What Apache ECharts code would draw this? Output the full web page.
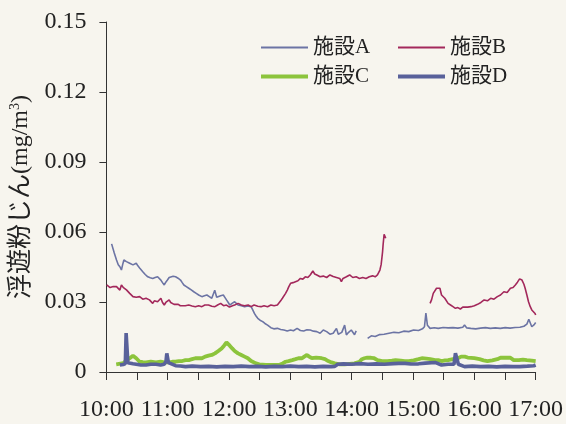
<!DOCTYPE html>
<html>
<head>
<meta charset="utf-8">
<script src="https://cdn.jsdelivr.net/npm/echarts@6/dist/echarts.min.js"></script>
<style>
  html, body { margin: 0; padding: 0; background: #f7f5ee; }
  #chart { width: 566px; height: 424px; }
</style>
</head>
<body>
<div id="chart"></div>
<script>
// Airborne dust concentration (mg/m3), time in minutes after 10:00
const seriesNames = ['施設A', '施設B', '施設C', '施設D'];
const hourLabels = ['10:00', '11:00', '12:00', '13:00', '14:00', '15:00', '16:00', '17:00'];
const yTicks = [0, 0.03, 0.06, 0.09, 0.12, 0.15];

const facilityA = [
  [5.1, 0.0549], [7.7, 0.051], [9.9, 0.048], [11.6, 0.046], [13.2, 0.0451], [14.7, 0.0437],
  [15.9, 0.046], [17.1, 0.048], [18.3, 0.0475], [19.6, 0.0473], [21.2, 0.047], [22.8, 0.0466],
  [24.4, 0.0462], [26, 0.0459], [27.6, 0.0462], [29.2, 0.0466], [30.8, 0.0455], [32.5, 0.0446],
  [34, 0.0438], [35.6, 0.043], [38, 0.0418], [40.5, 0.0408], [42.9, 0.0404], [45.3, 0.0401],
  [47.7, 0.0405], [50.1, 0.0408], [51.7, 0.0401], [53.3, 0.0394], [54.9, 0.0383], [56.6, 0.0373],
  [58.1, 0.0385], [59.7, 0.0394], [61.4, 0.0405], [62.9, 0.0413], [65.3, 0.041], [67.7, 0.0408],
  [70.1, 0.0402], [72.5, 0.0394], [74.2, 0.0383], [75.8, 0.0373], [78.2, 0.0366], [80.6, 0.0359],
  [83, 0.0352], [85.5, 0.0344], [87.9, 0.0337], [90.3, 0.033], [93.4, 0.0323], [95.9, 0.0327],
  [98.3, 0.033], [100.7, 0.0323], [103.1, 0.0316], [106, 0.035], [107.9, 0.032], [109.5, 0.0323],
  [111.8, 0.0327], [114.4, 0.033], [115.9, 0.032], [117.5, 0.0309], [119.2, 0.0298], [120.7, 0.0287],
  [123.3, 0.0295], [125.5, 0.0301], [127.2, 0.0294], [128.8, 0.0287], [132, 0.0284], [135.2, 0.028],
  [138.4, 0.0283], [141.6, 0.028], [143.3, 0.0265], [144.8, 0.0251], [146.4, 0.024], [148.1, 0.023],
  [150.3, 0.0222], [152.9, 0.0216], [155.1, 0.0208], [157.7, 0.0201], [159, 0.0195], [160.9, 0.019],
  [163.8, 0.0185], [167.3, 0.0187], [170.5, 0.0182], [173.7, 0.018], [176.9, 0.0176], [180.2, 0.018],
  [183, 0.0177], [186.6, 0.0187], [189.8, 0.0178], [193, 0.0176], [196.2, 0.0181], [199.4, 0.018],
  [202.6, 0.0175], [205.9, 0.0173], [209.1, 0.0166], [212.2, 0.018], [215.5, 0.0173], [218.7, 0.0162],
  [221.9, 0.0166], [225.1, 0.0187], [226.9, 0.0162], [228.3, 0.0159], [230.3, 0.017], [233.1, 0.0201],
  [234.8, 0.0159], [237, 0.017], [239.6, 0.018], [242.8, 0.016], [244.4, 0.0176],
  [250, null],
  [255.6, 0.0144], [259.2, 0.0155], [263, 0.0152], [266.9, 0.016], [271.7, 0.0162], [276.5, 0.0166],
  [281.3, 0.017], [286.1, 0.0168], [290.9, 0.0175], [295.8, 0.0173], [300.6, 0.018], [305.4, 0.0178],
  [309.2, 0.0185], [311.2, 0.0194], [312.6, 0.0252], [314.1, 0.02], [316.7, 0.0187], [320.8, 0.019],
  [324.7, 0.0187], [329.5, 0.0191], [334.3, 0.0189], [339.1, 0.019], [343.9, 0.0188], [348.7, 0.0192],
  [350.4, 0.0201], [352.6, 0.0189], [356.5, 0.0187], [361.3, 0.0185], [366.1, 0.0188], [370.9, 0.019],
  [375.7, 0.0187], [380.5, 0.0189], [385.4, 0.0187], [390.2, 0.019], [395, 0.0188], [399.8, 0.0191],
  [404.6, 0.0192], [408.5, 0.0196], [411.4, 0.0205], [413.3, 0.0226], [416.2, 0.0194], [418.6, 0.0203],
  [420, 0.0212]
];

const facilityB = [
  [0.3, 0.0373], [1.8, 0.0366], [3.6, 0.0362], [5.1, 0.0359], [6.7, 0.0366], [8.4, 0.0362],
  [9.9, 0.0366], [11.6, 0.0358], [13.2, 0.0351], [14.7, 0.0373], [16.4, 0.0363], [18, 0.0359],
  [19.6, 0.0352], [21.2, 0.0344], [22.8, 0.0337], [24.4, 0.033], [26, 0.0323], [27.6, 0.0316],
  [29.2, 0.032], [30.8, 0.0327], [32.5, 0.0323], [34, 0.0316], [35.6, 0.0312], [37.3, 0.0309],
  [38.8, 0.0316], [40.5, 0.0312], [42.1, 0.0309], [43.6, 0.0301], [45.3, 0.0294], [46.9, 0.0305],
  [48.5, 0.0298], [50.1, 0.0301], [51.7, 0.0305], [53.3, 0.0316], [54.9, 0.0298], [56.6, 0.0287],
  [58.1, 0.0298], [59.7, 0.0305], [61.4, 0.0309], [62.9, 0.0298], [64.5, 0.0294], [66.2, 0.029],
  [67.7, 0.0287], [70.3, 0.029], [72.3, 0.0284], [74.2, 0.0287], [77.1, 0.0284], [80.6, 0.0287],
  [83.8, 0.0283], [87, 0.028], [90.3, 0.0284], [93.4, 0.028], [96.3, 0.0287], [99.9, 0.0287],
  [103.1, 0.0282], [106.2, 0.028], [108.8, 0.0287], [111.8, 0.0294], [114.6, 0.0284], [117.5, 0.0287],
  [120.4, 0.0278], [123.3, 0.0284], [125.5, 0.0287], [128.8, 0.0294], [132, 0.0287], [135.2, 0.0284],
  [138.7, 0.0287], [141.6, 0.028], [144.5, 0.0287], [148.1, 0.0282], [151.3, 0.028], [154.2, 0.0284],
  [157.7, 0.028], [160.9, 0.0287], [164.1, 0.0284], [167.3, 0.0287], [168.9, 0.0294], [170.5, 0.0305],
  [172.2, 0.0316], [173.7, 0.0323], [175.3, 0.0337], [177, 0.0351], [178.5, 0.0366], [180.2, 0.038],
  [182.6, 0.0383], [185, 0.0387], [187.4, 0.0391], [189.8, 0.0401], [192.2, 0.0398], [194.6, 0.0408],
  [197.1, 0.0405], [199.4, 0.0416], [202, 0.0433], [203.8, 0.042], [205.9, 0.0416], [209.1, 0.0408],
  [212.2, 0.0411], [215.5, 0.0405], [218.7, 0.0416], [221.9, 0.0409], [225.1, 0.0405], [228.3, 0.0401],
  [229.9, 0.0387], [231.5, 0.0401], [234.8, 0.0408], [238, 0.0416], [241.1, 0.0405], [244.4, 0.0408],
  [247.6, 0.0401], [250.8, 0.0405], [254, 0.0401], [257.2, 0.0408], [260.4, 0.0412], [263, 0.0408],
  [265.2, 0.0416], [267.6, 0.0437], [268.8, 0.046], [269.5, 0.0487], [270.2, 0.0515], [270.7, 0.0544],
  [271.7, 0.059], [273.3, 0.0573],
  [295, null],
  [316.7, 0.0294], [318.2, 0.031], [319.8, 0.0337], [323, 0.0359], [324.7, 0.0352], [326.3, 0.0359],
  [327.9, 0.033], [331.1, 0.0316], [332.4, 0.032], [334.3, 0.0294], [336.7, 0.0287], [339.1, 0.028],
  [341.5, 0.0273], [343.9, 0.0276], [346.3, 0.027], [348.7, 0.0278], [350.6, 0.0273], [353.5, 0.0278],
  [356.7, 0.028], [360, 0.0284], [363.2, 0.029], [366.4, 0.0298], [369.6, 0.0309], [372.8, 0.0305],
  [376, 0.0316], [379.2, 0.0312], [382.5, 0.0323], [385.6, 0.033], [388.9, 0.0344], [392.1, 0.0341],
  [395.3, 0.0359], [397.9, 0.0362], [400.1, 0.0373], [402.2, 0.0385], [404.3, 0.0399], [406.6, 0.0394],
  [408.5, 0.0376], [409.7, 0.0359], [411.4, 0.033], [413, 0.0301], [414.7, 0.028], [416.2, 0.0266],
  [417.8, 0.0258], [419.4, 0.0251], [420, 0.0244]
];

const facilityC = [
  [9.6, 0.0033], [16.4, 0.0038], [20.2, 0.0052], [22.8, 0.0059], [26, 0.007], [29.2, 0.0059],
  [32.5, 0.0044], [35.6, 0.0042], [38.8, 0.0041], [43.4, 0.0044], [48.5, 0.0041], [53, 0.0044],
  [56.8, 0.0041], [61.4, 0.0041], [64.5, 0.0044], [67.7, 0.0044], [71, 0.0047], [74.2, 0.0047],
  [77.4, 0.0051], [80.6, 0.0051], [83.8, 0.0055], [87, 0.0059], [90.3, 0.0059], [93.4, 0.0059],
  [96.6, 0.0066], [99.9, 0.007], [103.1, 0.0073], [106.2, 0.008], [109.5, 0.009], [112.7, 0.0101],
  [115.1, 0.0113], [117.5, 0.0127], [119.2, 0.012], [120.7, 0.0113], [123.1, 0.0101], [125.5, 0.009],
  [128.8, 0.008], [132, 0.0073], [135.2, 0.0066], [138.4, 0.0059], [141.6, 0.0047], [143.5, 0.0044],
  [146.4, 0.0037], [149.6, 0.0033], [156, 0.003], [162.7, 0.003], [168.9, 0.003], [172.4, 0.0037],
  [175.3, 0.0044], [178.2, 0.0047], [181.8, 0.0051], [185, 0.0055], [187.9, 0.0059], [191.4, 0.0059],
  [193.6, 0.0066], [196.2, 0.0073], [198.4, 0.0066], [201, 0.0059], [205.2, 0.0062], [210.6, 0.0059],
  [213.9, 0.0055], [217, 0.0047], [220.3, 0.0041], [223.5, 0.0037], [228.3, 0.0033], [233.1, 0.0033],
  [237.9, 0.0035], [242.8, 0.0037], [247.6, 0.0044], [250, 0.0055], [252.4, 0.0059], [255.3, 0.0062],
  [258.9, 0.0061], [262, 0.0059], [265.2, 0.0051], [269.7, 0.0047], [274.9, 0.0047], [279.4, 0.0049],
  [282.9, 0.0051], [288, 0.0049], [291.9, 0.0047], [295.8, 0.0047], [300.6, 0.005], [305.4, 0.0055],
  [308.6, 0.0059], [313.1, 0.0057], [317, 0.0055], [321.5, 0.0051], [324.7, 0.0051], [327.9, 0.0047],
  [331.4, 0.005], [334.3, 0.0051], [339.1, 0.0055], [343.9, 0.0059], [347.1, 0.0066], [350.6, 0.0066],
  [353.5, 0.0062], [360, 0.0059], [365.1, 0.0055], [369, 0.005], [372.8, 0.0047], [377.6, 0.005],
  [382.5, 0.0055], [385.6, 0.0061], [390.2, 0.0061], [395.3, 0.0061], [398.5, 0.0051], [403.6, 0.0051],
  [407.5, 0.0053], [411.4, 0.0051], [416.2, 0.0049], [420, 0.0047]
];

const facilityD = [
  [13.2, 0.003], [16.4, 0.0032], [18.5, 0.0036], [19.3, 0.0167], [20.3, 0.0167], [21, 0.004],
  [22.8, 0.0033], [26, 0.0035], [29.2, 0.0033], [33.7, 0.003], [38.8, 0.003], [43.4, 0.0033],
  [48.5, 0.0033], [53, 0.003], [56.5, 0.0033], [58.3, 0.0045], [59.1, 0.008], [59.7, 0.008],
  [60.7, 0.004], [62.6, 0.0033], [67.7, 0.0027], [72.3, 0.0026], [77.4, 0.0023], [84, 0.0025],
  [92, 0.0023], [100, 0.0024], [108, 0.0022], [116, 0.0024], [124, 0.0023], [132, 0.0025],
  [140, 0.0023], [148, 0.0024], [156, 0.0022], [164, 0.0024], [172, 0.0023], [180, 0.0025],
  [188, 0.0023], [196, 0.0024], [204, 0.0022], [212, 0.0024], [220, 0.0023], [223.5, 0.0024],
  [226.4, 0.0033], [232, 0.0035], [240, 0.0033], [248, 0.0036], [256, 0.0033], [264, 0.0035],
  [272, 0.0033], [281, 0.0036], [286, 0.0037], [292.3, 0.0037], [298, 0.0034], [305.4, 0.0035],
  [312, 0.0038], [321.5, 0.0041], [327.9, 0.003], [334.3, 0.0033], [340.1, 0.0033], [341.5, 0.008],
  [343, 0.008], [344.4, 0.0033], [350.4, 0.0023], [358, 0.0025], [366, 0.0023], [374, 0.0024],
  [382, 0.0022], [390, 0.0024], [398, 0.0023], [404.6, 0.0023], [412, 0.0025], [418.2, 0.0027],
  [420, 0.003]
];

const lineColors = ['#6c74a4', '#a3285b', '#8cc43c', '#59619a'];
const lineWidths = [1.6, 1.6, 3.8, 3.6];
const seriesData = [facilityA, facilityB, facilityC, facilityD];

const serifFont = "'Liberation Serif', 'Times New Roman', 'Noto Sans CJK JP', serif";

const chart = echarts.init(document.getElementById('chart'), null, { renderer: 'canvas' });

// Legend laid out as a 2 x 2 block
const legendPos = [
  { left: 256, top: 32 },
  { left: 393, top: 32 },
  { left: 256, top: 61 },
  { left: 393, top: 61 }
];

chart.setOption({
  backgroundColor: '#f7f5ee',
  animation: false,
  textStyle: { fontFamily: serifFont, color: '#222' },
  grid: { left: 103, right: 27, top: 22, bottom: 52, containLabel: false },
  legend: seriesNames.map((name, i) => ({
    data: [{ name, icon: 'rect' }],
    left: legendPos[i].left,
    top: legendPos[i].top,
    itemWidth: 47,
    itemHeight: Math.round(lineWidths[i]),
    itemGap: 0,
    itemStyle: { color: lineColors[i], borderWidth: 0 },
    lineStyle: { width: 0, opacity: 0 },
    textStyle: { fontFamily: serifFont, fontSize: 21, color: '#222' },
    selectedMode: false
  })),
  xAxis: {
    type: 'value',
    min: 0,
    max: 420,
    interval: 30,
    axisLine: { lineStyle: { color: '#333', width: 1 } },
    axisTick: { length: 8, lineStyle: { color: '#333' } },
    splitLine: { show: false },
    axisLabel: {
      fontFamily: serifFont,
      fontSize: 24,
      color: '#222',
      margin: 26,
      showMaxLabel: true,
      hideOverlap: false,
      formatter: v => (v % 60 === 0 ? hourLabels[v / 60] : '')
    }
  },
  yAxis: {
    type: 'value',
    min: yTicks[0],
    max: yTicks[yTicks.length - 1],
    interval: 0.03,
    name: '{cjk|浮遊粉じん}{lat|(mg/m}{sup|3}{lat|)}',
    nameLocation: 'middle',
    nameRotate: 90,
    nameGap: 72,
    nameTextStyle: {
      fontFamily: serifFont,
      fontSize: 25,
      color: '#222',
      rich: {
        cjk: { fontSize: 25, fontFamily: serifFont, color: '#222', lineHeight: 26 },
        lat: { fontSize: 24, fontFamily: serifFont, color: '#222', lineHeight: 26 },
        sup: { fontSize: 14, fontFamily: serifFont, color: '#222', verticalAlign: 'top', lineHeight: 26 }
      }
    },
    axisLine: { show: true, lineStyle: { color: '#333', width: 1 } },
    axisTick: { show: true, length: 7, lineStyle: { color: '#333' } },
    splitLine: { show: false },
    axisLabel: {
      fontFamily: serifFont,
      fontSize: 24,
      color: '#222',
      margin: 20,
      formatter: v => (v === 0 ? '0' : v.toFixed(2))
    }
  },
  series: seriesNames.map((name, i) => ({
    name,
    type: 'line',
    data: seriesData[i],
    showSymbol: false,
    symbol: 'none',
    connectNulls: false,
    color: lineColors[i],
    lineStyle: { color: lineColors[i], width: lineWidths[i] },
    z: 2 + i
  }))
});
</script>
</body>
</html>
